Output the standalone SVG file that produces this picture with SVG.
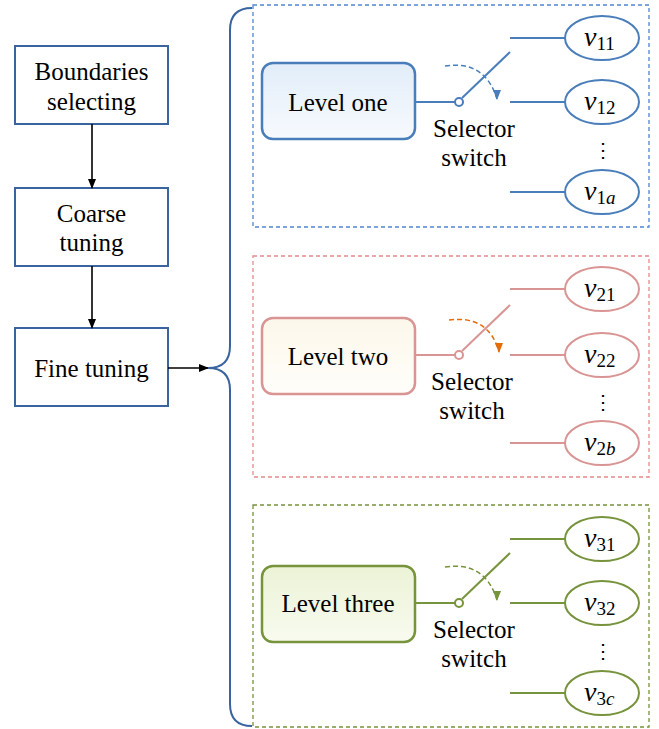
<svg xmlns="http://www.w3.org/2000/svg" width="659" height="729" viewBox="0 0 659 729" font-family="'Liberation Serif', 'Times New Roman', serif">
<defs>
<style>
text, tspan{font-family:'Liberation Serif', 'Times New Roman', serif;fill:#000}
.t{font-size:25px;text-anchor:middle}
.box{fill:#fff;stroke:#3a64a0;stroke-width:2}
.v{font-size:28px;font-style:italic}
.s{font-size:19px}
.si{font-size:19px;font-style:italic}
.dots{font-size:20px;text-anchor:middle}
</style>
<linearGradient id="gb" x1="0" y1="0" x2="0" y2="1"><stop offset="0" stop-color="#e2edf9"/><stop offset="1" stop-color="#f7fafe"/></linearGradient>
<linearGradient id="gr" x1="0" y1="0" x2="0" y2="1"><stop offset="0" stop-color="#fcf7ea"/><stop offset="1" stop-color="#fffefa"/></linearGradient>
<linearGradient id="gg" x1="0" y1="0" x2="0" y2="1"><stop offset="0" stop-color="#ebf3d6"/><stop offset="1" stop-color="#f8fbef"/></linearGradient>
<marker id="ak" markerWidth="10" markerHeight="8" refX="9" refY="4" orient="auto" markerUnits="userSpaceOnUse"><path d="M0,0 L10,4 L0,8 z" fill="#000"/></marker>
<marker id="ab" markerWidth="8" markerHeight="10" refX="4" refY="9" markerUnits="userSpaceOnUse" viewBox="0 0 8 10"><path d="M0,0 L8,0 L4,10 z" fill="#4a7ebb"/></marker>
<marker id="ar" markerWidth="8" markerHeight="10" refX="4" refY="9" markerUnits="userSpaceOnUse" viewBox="0 0 8 10"><path d="M0,0 L8,0 L4,10 z" fill="#e36c09"/></marker>
<marker id="ag" markerWidth="8" markerHeight="10" refX="4" refY="9" markerUnits="userSpaceOnUse" viewBox="0 0 8 10"><path d="M0,0 L8,0 L4,10 z" fill="#77933c"/></marker>
</defs>
<rect width="659" height="729" fill="#fff"/>

<g id="boundaries"><rect class="box" x="15" y="46" width="153" height="78"/><text class="t" x="91.5" y="80">Boundaries</text><text class="t" x="91.5" y="110">selecting</text></g>
<g id="coarse"><rect class="box" x="15" y="188" width="153" height="78"/><text class="t" x="91.5" y="222">Coarse</text><text class="t" x="91.5" y="251">tuning</text></g>
<g id="fine"><rect class="box" x="15" y="328" width="153" height="78"/><text class="t" x="91.5" y="377">Fine tuning</text></g>

<g id="connectors" fill="none">
<line x1="92" y1="124" x2="92" y2="188" stroke="#000" stroke-width="1.6" marker-end="url(#ak)"/>
<line x1="92" y1="266" x2="92" y2="328" stroke="#000" stroke-width="1.6" marker-end="url(#ak)"/>
<line x1="168" y1="368" x2="208" y2="368" stroke="#000" stroke-width="1.6" marker-end="url(#ak)"/>
<path d="M252,8 Q230,8 230,30 L230,346 Q230,368 208,368 Q230,368 230,390 L230,704 Q230,726 252,726" stroke="#3a64a0" stroke-width="2"/>
</g>

<g id="level1">
<rect x="253" y="5" width="396" height="222" fill="none" stroke="#4f86d0" stroke-width="1.3" stroke-dasharray="4,3"/>
<rect x="262" y="63" width="153" height="76" rx="11" fill="url(#gb)" stroke="#4a7ebb" stroke-width="2.5"/>
<text class="t" x="338" y="111">Level one</text>
<g stroke="#4a7ebb" stroke-width="2" fill="none">
<line x1="415" y1="102" x2="455" y2="102"/>
<line x1="462" y1="98" x2="510" y2="52"/>
<line x1="510" y1="38" x2="565" y2="38"/>
<line x1="510" y1="102" x2="565" y2="102"/>
<line x1="510" y1="192" x2="565" y2="192"/>
<circle cx="459" cy="102" r="4" fill="#fff"/>
<ellipse cx="602" cy="38" rx="37" ry="22"/>
<ellipse cx="602" cy="102" rx="37" ry="22"/>
<ellipse cx="602" cy="192" rx="37" ry="22"/>
<path d="M445,66 Q485,60 497,99" stroke-width="1.5" stroke-dasharray="5,3" marker-end="url(#ab)"/>
</g>
<text class="t" x="474" y="137">Selector</text><text class="t" x="474" y="166">switch</text>
<text x="584" y="46"><tspan class="v">v</tspan><tspan class="s" dy="4">11</tspan></text>
<text x="584" y="110"><tspan class="v">v</tspan><tspan class="s" dy="4">12</tspan></text>
<text x="584" y="200"><tspan class="v">v</tspan><tspan class="s" dy="4">1</tspan><tspan class="si">a</tspan></text>
<text class="dots" x="603" y="157">⋮</text>
</g>

<g id="level2" transform="translate(0,253)">
<rect x="253" y="3" width="396" height="221" fill="none" stroke="#e58a8a" stroke-width="1.3" stroke-dasharray="4,3"/>
<rect x="262" y="65" width="153" height="76" rx="11" fill="url(#gr)" stroke="#d99594" stroke-width="2.5"/>
<text class="t" x="338" y="112">Level two</text>
<g stroke="#d99594" stroke-width="2" fill="none">
<line x1="415" y1="102" x2="455" y2="102"/>
<line x1="462" y1="98" x2="510" y2="52"/>
<line x1="510" y1="36" x2="565" y2="36"/>
<line x1="510" y1="102" x2="565" y2="102"/>
<line x1="510" y1="190" x2="565" y2="190"/>
<circle cx="459" cy="102" r="4" fill="#fff"/>
<ellipse cx="602" cy="36" rx="37" ry="22"/>
<ellipse cx="602" cy="102" rx="37" ry="22"/>
<ellipse cx="602" cy="190" rx="37" ry="22"/>
<path d="M449,67 Q489,62 499,99" stroke="#e36c09" stroke-width="1.5" stroke-dasharray="5,3" marker-end="url(#ar)"/>
</g>
<text class="t" x="472" y="137">Selector</text><text class="t" x="472" y="166">switch</text>
<text x="584" y="44"><tspan class="v">v</tspan><tspan class="s" dy="4">21</tspan></text>
<text x="584" y="110"><tspan class="v">v</tspan><tspan class="s" dy="4">22</tspan></text>
<text x="584" y="198"><tspan class="v">v</tspan><tspan class="s" dy="4">2</tspan><tspan class="si">b</tspan></text>
<text class="dots" x="603" y="156">⋮</text>
</g>

<g id="level3" transform="translate(0,501)">
<rect x="253" y="4" width="396" height="222" fill="none" stroke="#77933c" stroke-width="1.3" stroke-dasharray="4,3"/>
<rect x="262" y="65" width="153" height="76" rx="11" fill="url(#gg)" stroke="#77933c" stroke-width="2.5"/>
<text class="t" x="338" y="111">Level three</text>
<g stroke="#77933c" stroke-width="2" fill="none">
<line x1="415" y1="102" x2="455" y2="102"/>
<line x1="462" y1="98" x2="510" y2="52"/>
<line x1="510" y1="38" x2="565" y2="38"/>
<line x1="510" y1="102" x2="565" y2="102"/>
<line x1="510" y1="192" x2="565" y2="192"/>
<circle cx="459" cy="102" r="4" fill="#fff"/>
<ellipse cx="602" cy="38" rx="37" ry="22"/>
<ellipse cx="602" cy="102" rx="37" ry="22"/>
<ellipse cx="602" cy="192" rx="37" ry="22"/>
<path d="M445,66 Q485,60 497,99" stroke-width="1.5" stroke-dasharray="5,3" marker-end="url(#ag)"/>
</g>
<text class="t" x="474" y="137">Selector</text><text class="t" x="474" y="166">switch</text>
<text x="584" y="46"><tspan class="v">v</tspan><tspan class="s" dy="4">31</tspan></text>
<text x="584" y="110"><tspan class="v">v</tspan><tspan class="s" dy="4">32</tspan></text>
<text x="584" y="200"><tspan class="v">v</tspan><tspan class="s" dy="4">3</tspan><tspan class="si">c</tspan></text>
<text class="dots" x="603" y="157">⋮</text>
</g>
</svg>
